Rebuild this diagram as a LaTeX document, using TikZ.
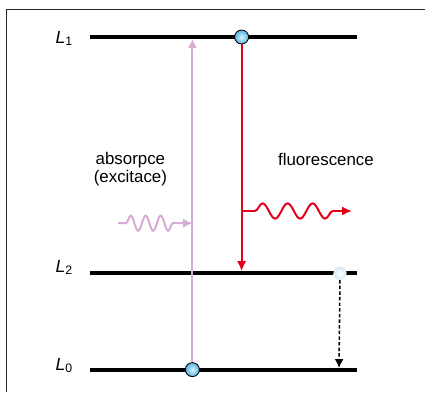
\documentclass[tikz,border=0pt]{standalone}
\usepackage{fontspec}
\setmainfont{Liberation Sans}
\usetikzlibrary{arrows.meta,decorations.pathmorphing}

\definecolor{lilac}{RGB}{214,172,212}
\definecolor{laser}{RGB}{226,0,26}
\definecolor{ballblue}{RGB}{84,180,225}
\definecolor{balllight}{RGB}{220,243,252}
\definecolor{paleblue}{RGB}{212,235,247}

\tikzset{
  level/.style={line width=2.5pt},
  levellabel/.style={anchor=base east,font=\fontsize{12.5}{13}\selectfont},
  electron/.style={circle,draw=black,line width=0.6pt,inner sep=0pt,
    minimum size=0.35cm,inner color=balllight,outer color=ballblue},
  ghost/.style={circle,inner sep=0pt,minimum size=0.33cm,
    inner color=white,outer color=paleblue},
  absorb/.style={lilac,line width=1.4pt,
    -{Latex[length=2.3mm,width=2.3mm]}},
  emit/.style={laser,line width=1.4pt,
    -{Latex[length=2.5mm,width=2.3mm]}},
  relax/.style={black,line width=1.1pt,dash pattern=on 2.5pt off 1.5pt,
    -{Latex[length=2.2mm,width=2.2mm]}},
  caption/.style={font=\fontsize{12}{12.8}\selectfont,align=center}
}

\begin{document}
\begin{tikzpicture}

\useasboundingbox (0,0) rectangle (10.625,9.8);

% Ramecek
\draw[black!85,line width=1pt]
(0.16,0)
-- (0.16,9.56)
-- (10.625,9.56);

% Hladiny
\draw[level] (2.25,8.875) -- (8.925,8.875);
\draw[level] (2.25,2.975) -- (8.925,2.975);
\draw[level] (2.25,0.55) -- (8.925,0.55);

\node[levellabel] (lab1) at (1.95,8.72) {\textit{L}\textsubscript{1}};
\node[levellabel] (lab2) at (1.95,3.0) {\textit{L}\textsubscript{2}};
\node[levellabel] (lab0) at (1.95,0.55) {\textit{L}\textsubscript{0}};

% Konce sipek
\coordinate (topL1) at (4.81,8.83);
\coordinate (topL2) at (6.04,3.02);
\coordinate (topL0) at (8.475,0.6);
\coordinate (waveA) at (2.95,4.22);
\coordinate (hitA) at (4.81,4.22);
\coordinate (waveF) at (6.04,4.525);
\coordinate (endF) at (8.8,4.525);

% Absorpce
\node[electron] (eL0) at (4.81,0.56) {};
\draw[absorb] (eL0) -- (topL1);
\draw[absorb,decorate,
  decoration={snake,amplitude=0.19cm,segment length=0.375cm,
    pre length=0.2cm,post length=0.35cm}]
(waveA) -- (hitA);

% Fluorescence
\node[electron] (eL1) at (6.04,8.875) {};
\draw[emit] (eL1) -- (topL2);
\draw[emit,decorate,
  decoration={snake,amplitude=0.19cm,segment length=0.625cm,
    pre length=0.33cm,post length=0.3cm}]
(waveF) -- (endF);

% Nezarivy prechod
\node[ghost] (eL2) at (8.5,2.97) {};
\draw[relax] (eL2) -- (topL0);

% Popisky
\node[caption] (absorpce) at (3.26,5.58) {absorpce\\(excitace)};
\node[caption] (fluor) at (8.15,5.825) {fluorescence};

\end{tikzpicture}
\end{document}
